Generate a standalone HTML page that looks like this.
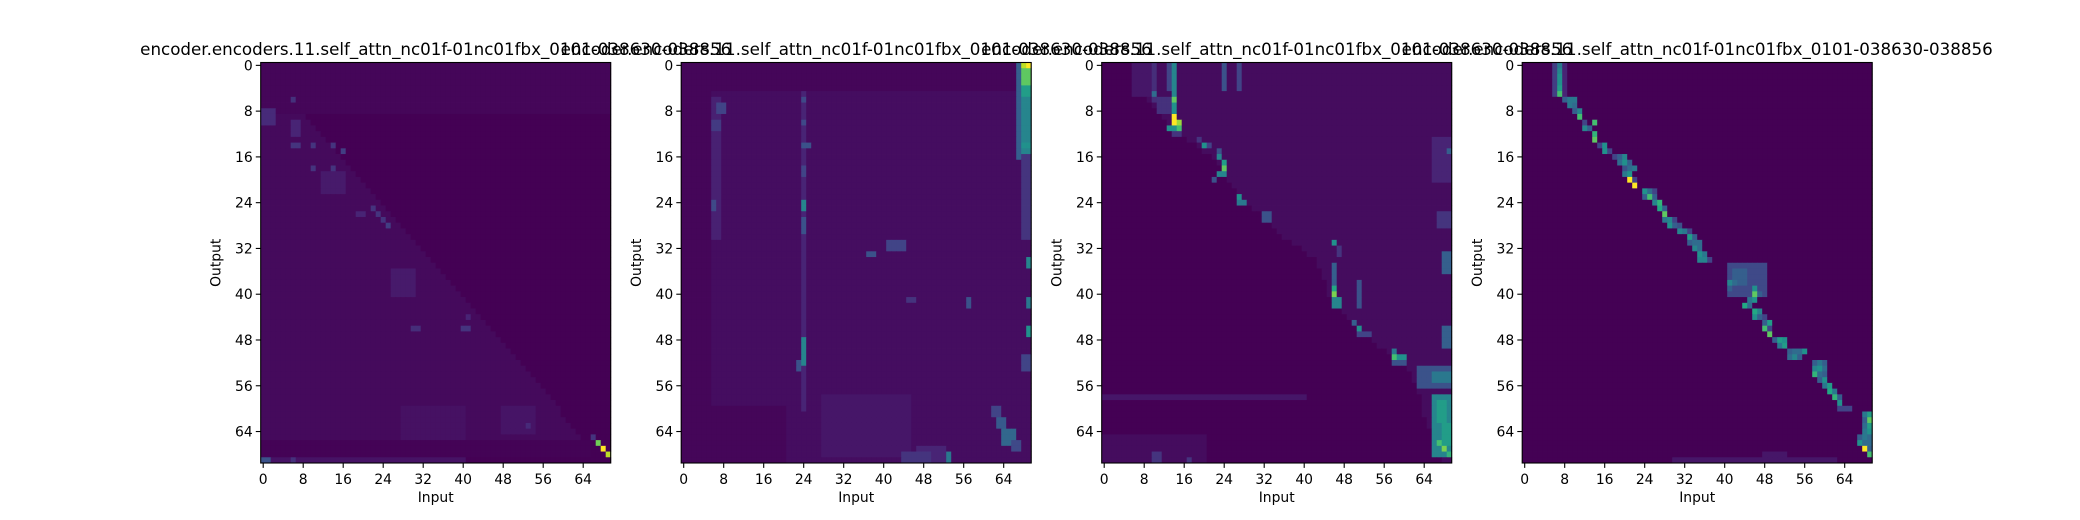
<!DOCTYPE html>
<html><head><meta charset="utf-8">
<style>
html,body{margin:0;padding:0;background:#fff;}
svg{display:block;font-family:"DejaVu Sans","Liberation Sans",sans-serif;}
</style></head>
<body>
<svg id="chart" width="2080" height="520" viewBox="0 0 2080 520" xmlns="http://www.w3.org/2000/svg"></svg>
<script>
// ---- data ----
const nRows = 70;
const nCols = 70;
const tickLabels = [0, 8, 16, 24, 32, 40, 48, 56, 64];
const titleText = "encoder.encoders.11.self_attn_nc01f-01nc01fbx_0101-038630-038856";
// base levels [upper(col>=boundary), lower(col<boundary)]
const p1Base = [0.0, 0.025];
const p2Base = [0.035, 0.035];
const p3Base = [0.03, 0.0];
const p4Base = [0.0, 0.0];
// boundary column per row
const p1Boundary = [0,1,2,3,4,5,6,7,8,9,10,11,12,13,14,15,16,17,18,19,20,21,22,23,24,25,26,27,28,29,30,31,32,33,34,35,36,37,38,39,40,41,42,43,44,45,46,47,48,49,50,51,52,53,54,55,56,57,58,59,60,60,61,62,63,64,0,0,0,0];
const p3Boundary = [6,6,7,7,7,8,9,10,11,12,13,14,16,17,19,20,22,23,24,24,25,26,27,28,29,30,32,33,34,35,36,38,40,41,43,43,44,44,45,45,45,46,47,48,49,50,52,53,54,55,57,58,60,61,62,62,63,63,64,64,64,64,65,65,66,66,67,67,68,68];
const p2Boundary = new Array(70).fill(0);
const p4Boundary = new Array(70).fill(0);
// rectangles [rowStart,rowEnd,colStart,colEnd,value]
const p1Rects = [[0,8,0,69,0.015],[8,10,0,2,0.12],[6,6,6,6,0.14],[10,12,6,7,0.1],[14,14,6,7,0.15],[14,14,10,10,0.15],[14,14,14,14,0.15],[15,15,16,16,0.18],[18,18,10,10,0.15],[18,18,14,14,0.15],[19,22,12,16,0.07],[25,25,22,22,0.15],[26,26,23,23,0.15],[27,27,24,24,0.15],[28,28,25,25,0.18],[26,26,19,20,0.1],[36,40,26,30,0.07],[46,46,30,31,0.13],[46,46,40,41,0.15],[44,44,41,41,0.1],[60,66,28,40,0.045],[60,64,48,54,0.055],[63,63,53,53,0.12],[66,68,0,65,0.005],[65,65,66,66,0.15],[66,66,67,67,0.78],[67,67,68,68,1],[68,68,69,69,0.9],[69,69,2,40,0.05],[69,69,0,1,0.25],[69,69,6,6,0.14]];
const p2Rects = [[0,4,0,69,0.015],[0,69,0,5,0.015],[60,69,0,20,0.015],[58,68,28,45,0.06],[6,30,6,7,0.09],[7,8,7,8,0.2],[10,11,6,7,0.17],[24,25,6,6,0.22],[5,60,24,24,0.1],[6,6,24,24,0.22],[10,10,24,24,0.22],[14,14,24,25,0.25],[18,19,24,24,0.2],[24,25,24,24,0.45],[27,29,24,24,0.25],[48,52,24,24,0.45],[52,53,23,23,0.25],[33,33,37,38,0.25],[31,32,41,44,0.2],[41,42,57,57,0.25],[41,41,45,46,0.15],[0,16,67,67,0.3],[0,15,68,69,0.45],[1,3,68,69,0.75],[4,5,68,69,0.55],[0,0,68,68,0.9],[0,0,69,69,1],[14,14,68,69,0.5],[16,30,68,69,0.15],[34,35,69,69,0.45],[41,42,69,69,0.4],[46,47,69,69,0.5],[51,53,68,69,0.2],[60,61,62,63,0.2],[62,63,63,64,0.28],[64,66,64,66,0.33],[66,67,66,67,0.22],[67,69,47,52,0.1],[68,69,44,49,0.15],[68,69,53,53,0.4]];
const p3Rects = [[0,5,6,9,0.06],[0,6,10,10,0.13],[0,6,14,14,0.45],[0,4,13,13,0.2],[5,5,10,10,0.35],[6,8,11,13,0.14],[6,6,14,14,0.75],[7,8,14,14,0.5],[9,10,14,14,1],[10,10,15,15,0.85],[11,11,13,14,0.5],[11,11,15,15,0.7],[12,12,14,15,0.15],[0,4,24,24,0.25],[0,4,27,27,0.2],[13,13,19,19,0.15],[14,14,20,20,0.5],[14,14,21,21,0.2],[15,15,23,23,0.25],[16,16,23,23,0.45],[17,17,24,24,0.55],[18,18,24,24,0.75],[19,19,23,24,0.45],[20,20,22,22,0.25],[23,23,27,27,0.5],[24,24,27,28,0.4],[26,27,32,33,0.25],[31,31,46,46,0.5],[32,33,47,47,0.15],[35,40,46,46,0.3],[39,39,46,46,0.6],[40,40,46,46,0.8],[41,42,46,47,0.45],[38,42,51,51,0.25],[45,45,50,50,0.3],[46,46,51,51,0.5],[47,47,51,53,0.2],[50,50,58,58,0.4],[51,51,58,58,0.7],[51,51,59,60,0.5],[52,52,58,60,0.25],[53,56,63,69,0.25],[54,55,66,69,0.4],[58,68,66,69,0.45],[59,62,67,68,0.55],[63,66,68,69,0.55],[66,66,67,67,0.7],[67,67,68,68,0.8],[68,68,69,69,0.65],[13,20,66,69,0.1],[15,15,69,69,0.3],[26,28,67,69,0.15],[33,36,68,69,0.3],[46,49,68,69,0.3],[58,58,0,40,0.06],[65,69,0,20,0.03],[68,69,10,11,0.15],[69,69,17,17,0.15]];
const p4Rects = [[0,5,6,6,0.18],[0,5,8,8,0.1],[35,40,41,48,0.22],[36,38,42,44,0.3],[69,69,30,62,0.06],[68,68,48,52,0.06]];
// individual cells [row,col,value]
const p4Cells = [[0,7,0.4],[1,7,0.45],[2,7,0.5],[3,7,0.5],[4,7,0.55],[5,7,0.7],[6,8,0.3],[6,9,0.4],[6,10,0.4],[7,9,0.4],[7,10,0.35],[8,10,0.3],[8,11,0.45],[9,11,0.7],[10,12,0.2],[10,14,0.7],[11,12,0.45],[11,13,0.3],[12,14,0.65],[13,14,0.75],[14,16,0.5],[14,15,0.2],[15,16,0.5],[15,17,0.2],[16,18,0.2],[16,19,0.3],[16,20,0.45],[17,19,0.35],[17,20,0.5],[17,21,0.3],[18,20,0.25],[18,21,0.35],[18,22,0.4],[19,20,0.4],[19,21,0.5],[20,21,1],[20,22,0.2],[21,22,1],[22,24,0.5],[22,25,0.35],[22,26,0.2],[23,24,0.3],[23,25,0.7],[23,26,0.3],[24,26,0.45],[24,27,0.65],[25,27,0.6],[25,28,0.3],[26,28,0.75],[27,28,0.4],[27,29,0.45],[27,30,0.2],[28,29,0.5],[28,30,0.3],[28,31,0.25],[29,31,0.45],[29,32,0.4],[29,33,0.2],[30,33,0.55],[30,34,0.3],[31,33,0.3],[31,34,0.35],[31,35,0.35],[32,34,0.45],[32,35,0.35],[33,35,0.5],[33,36,0.4],[34,35,0.45],[34,36,0.45],[34,37,0.2],[38,41,0.45],[38,42,0.35],[39,41,0.3],[39,46,0.5],[40,46,0.75],[40,47,0.3],[41,45,0.4],[41,46,0.5],[42,44,0.6],[42,45,0.35],[43,46,0.6],[43,47,0.45],[44,46,0.5],[44,47,0.3],[44,48,0.2],[45,48,0.3],[45,49,0.55],[46,48,0.7],[46,49,0.2],[47,49,0.75],[48,50,0.3],[48,51,0.55],[48,52,0.5],[49,51,0.4],[49,52,0.55],[50,53,0.3],[50,54,0.35],[50,55,0.35],[50,56,0.5],[51,53,0.35],[51,54,0.45],[51,55,0.3],[52,58,0.3],[52,59,0.4],[52,60,0.3],[53,58,0.45],[53,59,0.5],[53,60,0.35],[54,58,0.65],[54,59,0.35],[54,60,0.3],[55,59,0.3],[55,60,0.5],[56,60,0.4],[56,61,0.55],[57,61,0.6],[57,62,0.4],[58,62,0.65],[58,63,0.3],[59,63,0.5],[60,63,0.2],[60,64,0.2],[60,65,0.2],[61,68,0.4],[61,69,0.55],[62,68,0.3],[62,69,0.75],[63,68,0.35],[63,69,0.55],[64,68,0.4],[64,69,0.5],[65,67,0.3],[65,68,0.4],[65,69,0.35],[66,67,0.5],[66,68,0.35],[66,69,0.35],[67,68,1],[67,69,0.3],[68,69,0.7]];

// ---- rendering ----
const NS = "http://www.w3.org/2000/svg";
const svg = document.getElementById("chart");
const panelLeft0 = 260.7, panelGap = 420.5, panelW = 350, panelTop = 62.5, panelH = 400.5;
const stops = ["#440154","#482475","#414487","#355f8d","#2a788e","#21918c","#22a884","#44bf70","#7ad151","#bddf26","#fde725"];
function hex(h){return [parseInt(h.slice(1,3),16),parseInt(h.slice(3,5),16),parseInt(h.slice(5,7),16)];}
function viridis(v){
  v=Math.max(0,Math.min(1,v));const p=v*10;const i=Math.min(9,Math.floor(p));const t=p-i;
  const a=hex(stops[i]),b=hex(stops[i+1]);
  return "rgb("+a.map((x,k)=>Math.round(x+(b[k]-x)*t)).join(",")+")";
}
function mk(tag, attrs){const e=document.createElementNS(NS,tag);for(const k in attrs)e.setAttribute(k,attrs[k]);return e;}
function buildMatrix(base, boundary, rects, cells){
  const m=[];
  for(let r=0;r<nRows;r++){const row=[];for(let c=0;c<nCols;c++){row.push(c<boundary[r]?base[1]:base[0]);}m.push(row);}
  rects.forEach(q=>{for(let r=q[0];r<=q[1];r++)for(let c=q[2];c<=q[3];c++)m[r][c]=q[4];});
  cells.forEach(q=>{m[q[0]][q[1]]=q[2];});
  return m;
}
const panels=[
  buildMatrix(p1Base,p1Boundary,p1Rects,[]),
  buildMatrix(p2Base,p2Boundary,p2Rects,[]),
  buildMatrix(p3Base,p3Boundary,p3Rects,[]),
  buildMatrix(p4Base,p4Boundary,p4Rects,p4Cells)
];
panels.forEach((m,pi)=>{
  const x0=panelLeft0+pi*panelGap;
  const xs=c=>x0+c*panelW/nCols;
  const ys=r=>panelTop+r*panelH/nRows;
  const g=mk("g",{});
  
  
  svg.appendChild(g);
  for(let r=0;r<nRows;r++)for(let c=0;c<nCols;c++){
    const cell=mk("rect",{x:xs(c).toFixed(2),y:ys(r).toFixed(2),width:(panelW/nCols+0.4).toFixed(2),height:(panelH/nRows+0.4).toFixed(2),fill:viridis(m[r][c])});
    
    
    g.appendChild(cell);
  }
  const frame=mk("rect",{x:x0,y:panelTop,width:panelW,height:panelH,fill:"none",stroke:"#000","stroke-width":1.1});
  
  
  svg.appendChild(frame);
  tickLabels.forEach(t=>{
    const yc=ys(t+0.5), xc=xs(t+0.5);
    const yt=mk("line",{x1:x0-4.9,x2:x0,y1:yc,y2:yc,stroke:"#000","stroke-width":1.1});
    
    
    svg.appendChild(yt);
    const yl=mk("text",{x:x0-8,y:yc+5,"text-anchor":"end","font-size":"13.9px",fill:"#000"});
    yl.textContent=t;
    
    
    svg.appendChild(yl);
    const xt=mk("line",{x1:xc,x2:xc,y1:panelTop+panelH,y2:panelTop+panelH+4.9,stroke:"#000","stroke-width":1.1});
    
    
    svg.appendChild(xt);
    const xl=mk("text",{x:xc,y:484,"text-anchor":"middle","font-size":"13.9px",fill:"#000"});
    xl.textContent=t;
    
    
    svg.appendChild(xl);
  });
  const xa=mk("text",{x:x0+panelW/2,y:502,"text-anchor":"middle","font-size":"13.9px",fill:"#000"});
  xa.textContent="Input";
  
  
  svg.appendChild(xa);
  const ya=mk("text",{x:0,y:0,"text-anchor":"middle","font-size":"13.9px",fill:"#000",transform:"translate("+(x0-40)+","+(panelTop+panelH/2)+") rotate(-90)"});
  ya.textContent="Output";
  
  
  svg.appendChild(ya);
  const tt=mk("text",{x:x0+panelW/2,y:55,"text-anchor":"middle","font-size":"16.7px",fill:"#000"});
  tt.textContent=titleText;
  
  
  svg.appendChild(tt);
});
</script>
</body></html>
